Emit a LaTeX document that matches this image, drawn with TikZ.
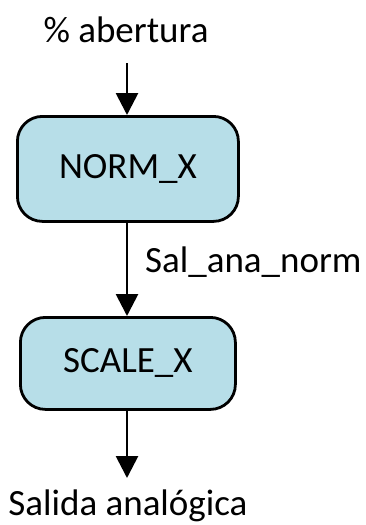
\documentclass[tikz,border=0pt]{standalone}
\usepackage{fontspec}
\setmainfont{Carlito}
\usetikzlibrary{arrows.meta}
\definecolor{boxblue}{HTML}{B7DEE8}
\begin{document}
\begin{tikzpicture}[x=1pt,y=-1pt,
  blk/.style={draw=black,line width=2.8pt,fill=boxblue,rounded corners=25pt,font=\fontsize{37}{40}\selectfont,anchor=north west,inner sep=0pt},
  lbl/.style={font=\fontsize{37}{40}\selectfont,inner sep=0pt},
  flow/.style={line width=2.8pt,-{Triangle[length=22pt,width=22pt]}}]
\useasboundingbox (0,0) rectangle (366,525);
\node[lbl] (in) at (126,30) {\% abertura};
\coordinate (inend) at (127,63);
\node[blk,minimum width=221pt,minimum height=105pt] (norm) at (16,115) {NORM\_X};
\node[blk,minimum width=215pt,minimum height=92pt] (scale) at (19,316) {SCALE\_X};
\node[lbl,anchor=west] (sig) at (145,262) {Sal\_ana\_norm};
\node[lbl] (out) at (128,506) {Salida analógica};
\coordinate (outstart) at (127,478);
\draw[flow] (inend) -- (norm.north -| inend);
\draw[flow] (norm.south -| inend) -- (scale.north -| inend);
\draw[flow] (scale.south -| inend) -- (outstart);
\end{tikzpicture}
\end{document}
